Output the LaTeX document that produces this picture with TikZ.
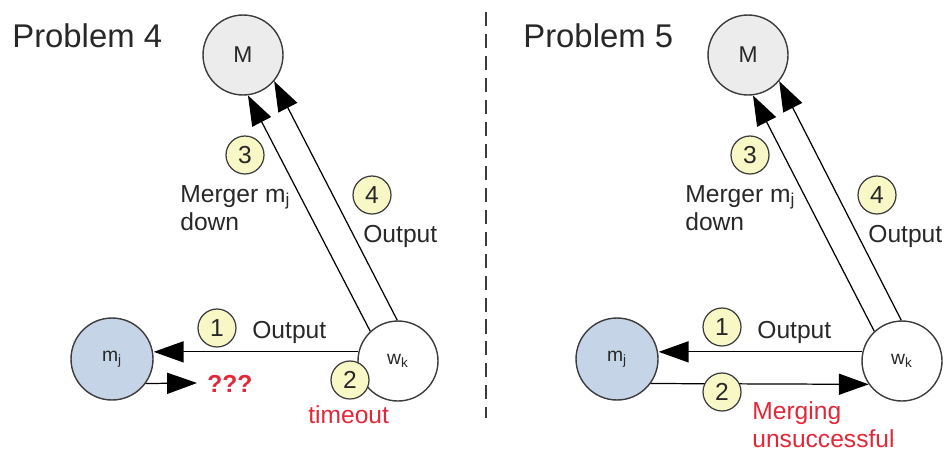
\documentclass[tikz,border=0pt]{standalone}
\usepackage{fontspec}
\setmainfont{Liberation Sans}
\usetikzlibrary{arrows.meta}

\definecolor{ink}{RGB}{40,40,40}
\definecolor{edge}{RGB}{60,60,60}
\definecolor{mgray}{RGB}{236,236,236}
\definecolor{mjblue}{RGB}{198,212,231}
\definecolor{numfill}{RGB}{248,248,198}
\definecolor{alert}{RGB}{226,40,56}

\begin{document}
\begin{tikzpicture}[x=0.02cm, y=-0.02cm,
    big/.style={circle, draw=edge, line width=0.8pt, minimum size=1.6cm, inner sep=0pt, text=ink, font=\fontsize{11}{13}\selectfont},
    num/.style={circle, draw=edge, fill=numfill, line width=0.7pt, minimum size=0.76cm, inner sep=0pt, text=ink, font=\fontsize{14}{16}\selectfont},
    lbl/.style={anchor=base west, inner sep=0pt, text=ink, align=left, font=\fontsize{14}{15.9}\selectfont},
    warn/.style={lbl, text=alert},
    arr/.style={-{Triangle[length=17pt, width=12pt]}, line width=0.7pt}]
    \useasboundingbox (0,0) rectangle (945,450);

    % Problem 4
    \node[lbl, font=\fontsize{18.7}{22}\selectfont] (t4) at (12,47) {Problem 4};
    \node[big, fill=mgray, font=\fontsize{13}{15}\selectfont] (M4) at (243,55) {M};
    \node[big, fill=mjblue, minimum size=1.64cm] (mj4) at (112,359) {m\textsubscript{j}};
    \node[big, fill=white] (wk4) at (398,361) {w\textsubscript{k}};
    \coordinate (q4) at (197,383);

    \draw[arr] (wk4.167) -- (mj4.east |- wk4.167);
    \draw[arr] (mj4.-36) -- (q4);
    \draw[arr] (wk4.133) -- (M4.-83);
    \draw[arr] (wk4.91) -- (M4.-40);

    \node[num] (n41) at (217,328) {1};
    \node[num] (n42) at (350,380) {2};
    \node[num] (n43) at (245,155) {3};
    \node[num] (n44) at (372,195) {4};

    % base of a two-line label is its last line
    \node[lbl] (o41) at (252,338) {Output};
    \node[warn, font=\fontsize{14}{16}\selectfont\bfseries] (q4t) at (207,392) {???};
    \node[warn] (to4) at (308,423) {timeout};
    \node[lbl] (md4) at (180,230) {Merger m\textsubscript{j}\\down};
    \node[lbl] (o44) at (363,242) {Output};

    \draw[edge, line width=0.6pt, dash pattern=on 8pt off 4.5pt] (486,12) -- (486,418);

    % Problem 5
    \node[lbl, font=\fontsize{18.7}{22}\selectfont] (t5) at (523,47) {Problem 5};
    \node[big, fill=mgray, font=\fontsize{13}{15}\selectfont] (M5) at (748,55) {M};
    \node[big, fill=mjblue, minimum size=1.64cm] (mj5) at (617,359) {m\textsubscript{j}};
    \node[big, fill=white] (wk5) at (902,361) {w\textsubscript{k}};

    \draw[arr] (wk5.167) -- (mj5.east |- wk5.167);
    \draw[arr] (mj5.-36) -- (wk5.-145);
    \draw[arr] (wk5.133) -- (M5.-83);
    \draw[arr] (wk5.91) -- (M5.-40);

    \node[num] (n51) at (722,327) {1};
    \node[num] (n52) at (722,392) {2};
    \node[num] (n53) at (750,155) {3};
    \node[num] (n54) at (877,195) {4};

    \node[lbl] (o51) at (757,338) {Output};
    \node[warn] (mu5) at (752,447) {Merging\\unsuccessful};
    \node[lbl] (md5) at (685,230) {Merger m\textsubscript{j}\\down};
    \node[lbl] (o54) at (868,242) {Output};
\end{tikzpicture}
\end{document}
